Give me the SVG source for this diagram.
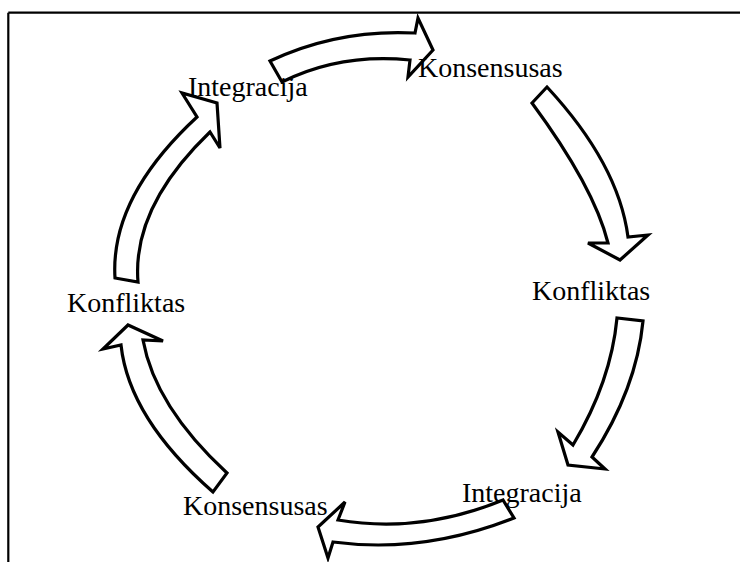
<svg xmlns="http://www.w3.org/2000/svg" width="740" height="562" viewBox="0 0 740 562">
<style>
.frame{stroke:#000;stroke-width:2.2;fill:none}
.arr{fill:#fff;stroke:#000;stroke-width:3.2;stroke-linejoin:miter}
.lbl{font-family:"Liberation Serif","Times New Roman",serif;font-size:28px;fill:#000}
</style>
<rect width="740" height="562" fill="#fff"/>
<g id="frame">
<line class="frame" x1="8.3" y1="12.7" x2="740" y2="12.7"/>
<line class="frame" x1="8.3" y1="12.7" x2="8.3" y2="562"/>
</g>
<g id="connectors">
<path class="arr" d="M270,61 Q337.5,29 415,33 L418,18 L433,50 L408,77 L410,60 Q340,53 282,82 Z"/>
<path class="arr" d="M547,87 Q618.5,164 628,237 L648,235 L620,260 L588,243 L608,243 Q594,187 532,103 Z"/>
<path class="arr" d="M643,321 Q636.5,389 592,457 L605,469 L568,465 L558,432 L573,445 Q611,381.5 617,318 Z"/>
<path class="arr" d="M503,500 Q420.5,534 338,520 L345,502 L318,527 L328,558 L333,542 Q423.5,554 514,518 Z"/>
<path class="arr" d="M213,492 Q129,418.5 121,345 L103,349 L128,325 L163,341 L143,340 Q155,406.5 227,473 Z"/>
<path class="arr" d="M115,278 Q110,197.5 197,117 L182,93 L217,103 L220,148 L210,132 Q132,207 138,282 Z"/>
</g>
<g id="n1"><text class="lbl" x="188" y="96">Integracija</text></g>
<g id="n2"><text class="lbl" x="418" y="77">Konsensusas</text></g>
<g id="n3"><text class="lbl" x="532" y="300">Konfliktas</text></g>
<g id="n4"><text class="lbl" x="462" y="502">Integracija</text></g>
<g id="n5"><text class="lbl" x="183" y="515">Konsensusas</text></g>
<g id="n6"><text class="lbl" x="67" y="312">Konfliktas</text></g>
</svg>
